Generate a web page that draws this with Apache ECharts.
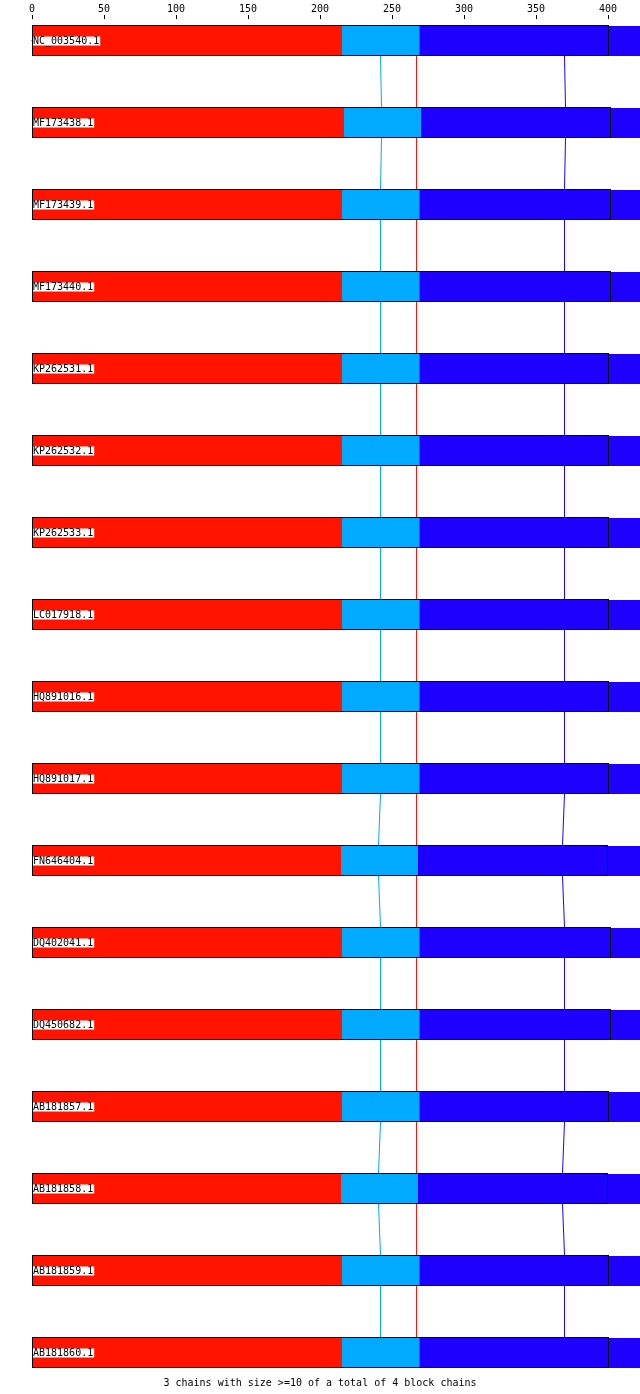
<!DOCTYPE html>
<html>
<head>
<meta charset="utf-8">
<script src="https://cdn.jsdelivr.net/npm/echarts@6/dist/echarts.min.js"></script>
<style>
html,body{margin:0;padding:0;background:#fff;}
#chart{width:640px;height:1394px;}
</style>
</head>
<body>
<div id="chart"></div>
<script>
// ---- data ----
const names = ["NC_003540.1","MF173438.1","MF173439.1","MF173440.1","KP262531.1","KP262532.1","KP262533.1","LC017918.1","HQ891016.1","HQ891017.1","FN646404.1","DQ402041.1","DQ450682.1","AB181857.1","AB181858.1","AB181859.1","AB181860.1"];
const redEnd     = [215.3,216.7,215.3,215.3,215.3,215.3,215.3,215.3,215.3,215.3,214.6,215.3,215.3,215.3,214.6,215.3,215.3];
const lightEnd   = [268.75,270.1,268.75,268.75,268.75,268.75,268.75,268.75,268.75,268.75,268.1,268.75,268.75,268.75,268.1,268.75,268.75];
const thinRedEnd = [269.4,270.1,269.4,269.4,269.4,269.4,269.4,269.4,269.4,269.4,268.1,269.4,269.4,269.4,268.1,269.4,269.4];
const boxEnd     = [400.7,402.1,402.1,402.1,400.7,400.7,400.7,400.7,400.7,400.7,400.0,402.1,402.1,400.7,400.0,400.7,400.7];
const tailEnd    = [425,425,425,425,425,425,425,425,425,425,425,425,425,425,425,425,425];
const lightLine  = [241.9,242.6,241.9,241.9,241.9,241.9,241.9,241.9,241.9,241.9,240.6,241.9,241.9,241.9,240.6,241.9,241.9];
const redLine    = [266.9,266.9,266.9,266.9,266.9,266.9,266.9,266.9,266.9,266.9,266.9,266.9,266.9,266.9,266.9,266.9,266.9];
const blueLine   = [369.7,370.4,369.7,369.7,369.7,369.7,369.7,369.7,369.7,369.7,368.3,369.7,369.7,369.7,368.3,369.7,369.7];
const tickValues = [0,50,100,150,200,250,300,350,400];
const caption = "3 chains with size >=10 of a total of 4 block chains";

// ---- styles ----
const RED = '#ff1400', LIGHT = '#00aaff', BLUE = '#1e00ff';
const FONT = 'DejaVu Sans Mono';
const HALF = 15.5 / 82;

const chart = echarts.init(document.getElementById('chart'), null, {renderer: 'canvas'});

function renderItem(params, api) {
  const i = params.dataIndex;
  const n = names.length;
  const X = v => Math.round(api.coord([v, i])[0]);
  const top = Math.round(api.coord([0, i - HALF])[1]);
  const bot = Math.round(api.coord([0, i + HALF])[1]);
  const h = bot - top;
  const children = [];
  const seg = (a, b, c, inset) => {
    const xa = X(a), xb = X(b);
    if (xb > xa) children.push({type: 'rect',
      shape: {x: xa, y: top + (inset || 0), width: xb - xa, height: h - (inset || 0)},
      style: {fill: c}});
  };
  seg(0, redEnd[i], RED);
  seg(redEnd[i], lightEnd[i], LIGHT);
  seg(lightEnd[i], thinRedEnd[i], RED);
  seg(thinRedEnd[i], boxEnd[i], BLUE);
  seg(boxEnd[i], tailEnd[i], BLUE, 1);
  // outline box
  const x0 = X(0), xe = X(boxEnd[i]);
  children.push({type: 'rect', shape: {x: x0 + 0.5, y: top + 0.5, width: xe - x0 - 1, height: h - 1},
    style: {fill: null, stroke: '#000', lineWidth: 1}});
  // name label
  children.push({type: 'text', x: x0 + 1, y: Math.round((top + bot) / 2),
    style: {text: names[i], font: '10px "' + FONT + '"', fill: '#000', backgroundColor: '#fff',
      verticalAlign: 'middle', align: 'left', lineHeight: 9, padding: [0, 1, 0, 0]}});
  // connector lines to next row
  if (i < n - 1) {
    const nextTop = Math.round(api.coord([0, i + 1 - HALF])[1]);
    const xn = v => Math.round(api.coord([v, i + 1])[0]);
    [[lightLine, LIGHT], [redLine, RED], [blueLine, BLUE]].forEach(([arr, c]) => {
      children.push({type: 'line', shape: {x1: X(arr[i]) + 0.5, y1: bot, x2: xn(arr[i + 1]) + 0.5, y2: nextTop},
        style: {stroke: c, lineWidth: 1}});
    });
  }
  return {type: 'group', children};
}

const gridTop = 15;
const rowPx = 82, firstCenter = 40.5, gridBottomPx = 1374;
const yMin = (gridTop - firstCenter) / rowPx;
const yMax = (gridBottomPx - firstCenter) / rowPx;

chart.setOption({
  animation: false,
  backgroundColor: '#fff',
  title: {text: caption, left: 'center', top: 1373,
    textStyle: {fontFamily: FONT, fontSize: 10, fontWeight: 'normal', color: '#000'}},
  grid: {left: 32, right: 32, top: gridTop, bottom: 1394 - gridBottomPx, containLabel: false},
  xAxis: [{
    type: 'value', position: 'top', min: 0, max: 400, interval: 50,
    axisLine: {show: true, lineStyle: {color: '#000', width: 1}},
    axisTick: {show: true, inside: false, length: 3, lineStyle: {color: '#000'}},
    axisLabel: {show: true, margin: 1, color: '#000', fontFamily: FONT, fontSize: 10,
      customValues: tickValues},
    splitLine: {show: false}
  }, {
    type: 'value', position: 'top', min: 0, max: 400, interval: 50,
    axisLine: {show: false},
    axisTick: {show: true, inside: true, length: 4, lineStyle: {color: '#000'}},
    axisLabel: {show: false},
    splitLine: {show: false}
  }],
  yAxis: {type: 'value', inverse: true, min: yMin, max: yMax, show: false},
  series: [{
    type: 'custom',
    clip: false,
    renderItem,
    encode: {x: 0, y: 1},
    data: names.map((n, i) => [0, i])
  }]
});
</script>
</body>
</html>
